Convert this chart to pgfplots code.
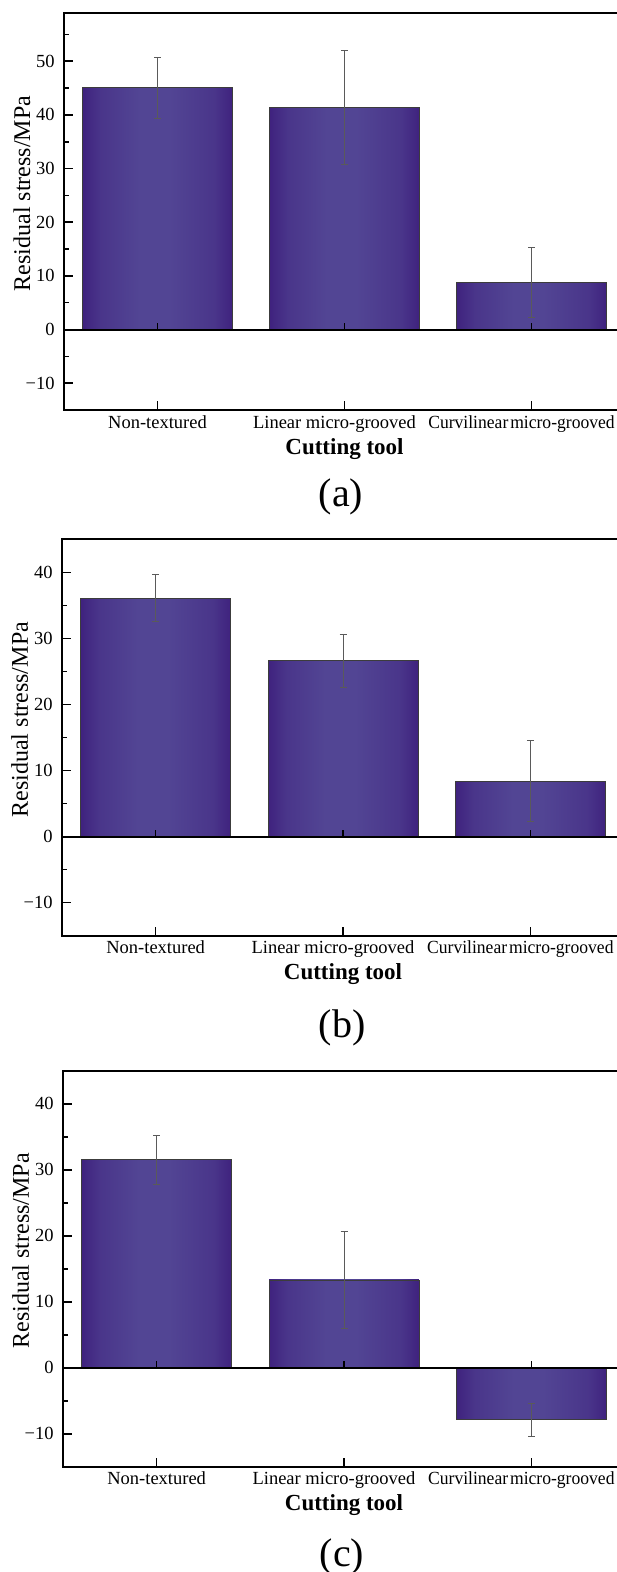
\documentclass[border=0pt]{standalone}
\usepackage{fontspec}
\setmainfont{Liberation Serif}
\usepackage{pgfplots}
\pgfplotsset{compat=1.18}

\definecolor{bardark}{RGB}{63,34,126}
\definecolor{barlight}{RGB}{82,69,148}
\definecolor{baredge}{RGB}{60,60,60}
\definecolor{errgray}{RGB}{90,90,90}

% bar fill: dark at both edges, lighter towards the middle
\pgfdeclarehorizontalshading{barshade}{100bp}{%
  color(0bp)=(bardark); color(25bp)=(bardark); color(31bp)=(barlight!55!bardark);
  color(44bp)=(barlight); color(54bp)=(barlight); color(69bp)=(barlight!55!bardark);
  color(75bp)=(bardark); color(100bp)=(bardark)}

\tikzset{
  zeroline/.style={line width=1pt, black},
  zerotick/.style={line width=0.8pt, black},
  panel/.style={font=\fontsize{20}{22}\selectfont, inner sep=0pt, anchor=north},
}

\pgfplotsset{
  stressbars/.style={
    scale only axis, width=280.5pt,
    xmin=-0.5, xmax=2.5, ymin=-15,
    xtick={0,1,2},
    xticklabels={Non-textured,
      \hspace*{-10pt}Linear micro-grooved,
      \hspace*{-10pt}\scalebox{0.95}[1]{Curvilinear\kern1pt micro-grooved}},
    tick pos=left, tick align=inside,
    major tick length=4.5pt, minor tick length=2.5pt,
    tick style={black, line width=0.8pt},
    axis line style={line width=1pt},
    ticklabel style={font=\fontsize{9.25}{10}\selectfont},
    xticklabel style={inner sep=0pt, anchor=north, yshift=-2.5pt},
    yticklabel style={inner sep=0pt, anchor=east, xshift=-4.5pt},
    xlabel={Cutting tool},
    xlabel style={font=\bfseries\fontsize{11.5}{13}\selectfont, inner sep=0pt,
      anchor=north, at={(axis description cs:0.5,-0.0705)}},
    ylabel={Residual stress/MPa},
    ylabel style={font=\fontsize{12}{13}\selectfont, inner sep=0pt,
      anchor=north, at={(axis description cs:-0.0909,0.545)}},
  },
  stressbar/.style={ybar, bar width=0.8, bar shift=0pt, draw=baredge,
    line width=0.4pt, shading=barshade},
  stresserr/.style={draw=none, mark=none,
    error bars/.cd, y dir=both, y explicit,
    error bar style={draw=errgray, line width=0.5pt},
    error mark options={rotate=90, draw=errgray, mark size=1.75pt, line width=0.5pt}},
}

\begin{document}
\begin{tikzpicture}
\useasboundingbox (0,0) rectangle (308pt,-786pt);

% ---------------- (a) ----------------
\begin{axis}[stressbars, at={(32pt,-6.5pt)}, anchor=north west,
  height=198.5pt, ymax=59,
  ytick={-10,0,...,50}, yticklabels={−10,0,10,20,30,40,50},
  minor ytick={-5,5,...,55}]
\addplot[stressbar] coordinates {(0,45.05)};
\addplot[stressbar] coordinates {(1,41.4)};
\addplot[stressbar] coordinates {(2,8.7)};
\addplot[stresserr] coordinates {(0,45.05) +- (0,5.65) (1,41.4) +- (0,10.7) (2,8.7) +- (0,6.5)};
\draw[zeroline] (axis cs:-0.5,0) -- (axis cs:2.5,0);
\pgfplotsinvokeforeach{0,1,2}{\draw[zerotick] (axis cs:#1,0) -- ++(0pt,3.5pt);}
\end{axis}
\node[panel] at (170.5pt,-239pt) {(a)};

% ---------------- (b) ----------------
\begin{axis}[stressbars, at={(31pt,-269.65pt)}, anchor=north west,
  width=281pt, height=198.2pt, ymax=45,
  ytick={-10,0,...,40}, yticklabels={−10,0,10,20,30,40},
  minor ytick={-5,5,...,35}]
\addplot[stressbar] coordinates {(0,36.1)};
\addplot[stressbar] coordinates {(1,26.6)};
\addplot[stressbar] coordinates {(2,8.4)};
\addplot[stresserr] coordinates {(0,36.1) +- (0,3.5) (1,26.6) +- (0,4.0) (2,8.4) +- (0,6.1)};
\draw[zeroline] (axis cs:-0.5,0) -- (axis cs:2.5,0);
\pgfplotsinvokeforeach{0,1,2}{\draw[zerotick] (axis cs:#1,0) -- ++(0pt,3.5pt);}
\end{axis}
\node[panel] at (171pt,-504.5pt) {(b)};

% ---------------- (c) ----------------
\begin{axis}[stressbars, at={(31.5pt,-535.35pt)}, anchor=north west,
  width=281pt, height=198pt, ymax=45,
  ytick={-10,0,...,40}, yticklabels={−10,0,10,20,30,40},
  minor ytick={-5,5,...,35}]
\addplot[stressbar] coordinates {(0,31.5)};
\addplot[stressbar] coordinates {(1,13.3)};
\addplot[stressbar] coordinates {(2,-7.9)};
\addplot[stresserr] coordinates {(0,31.5) +- (0,3.7) (1,13.3) +- (0,7.4) (2,-7.9) +- (0,2.45)};
\draw[zeroline] (axis cs:-0.5,0) -- (axis cs:2.5,0);
\pgfplotsinvokeforeach{0,1,2}{\draw[zerotick] (axis cs:#1,0) -- ++(0pt,3.5pt);}
\end{axis}
\node[panel] at (171pt,-769pt) {(c)};
\end{tikzpicture}
\end{document}
